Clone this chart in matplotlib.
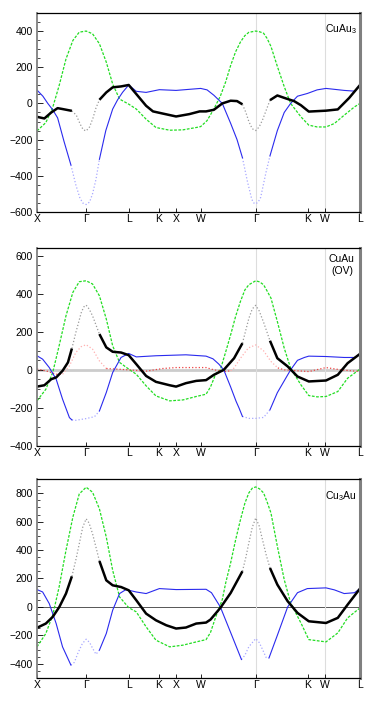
"""Band-like dispersion curves for CuAu3, CuAu (OV) and Cu3Au along the fcc path."""
import matplotlib.pyplot as plt
import numpy as np
from matplotlib.ticker import MultipleLocator

plt.rcParams["font.family"] = ["Liberation Sans", "DejaVu Sans"]
plt.rcParams["mathtext.fontset"] = "custom"
plt.rcParams["mathtext.rm"] = "Liberation Sans"
plt.rcParams["mathtext.it"] = "Liberation Sans"

# path positions of the high-symmetry points
TICK_POS = [0.0, 1.0, 1.866, 2.478, 2.832, 3.332, 4.450, 5.511, 5.865, 6.572]
TICK_LABELS = ["X", "Γ", "L", "K", "X", "W", "Γ", "K", "W", "L"]
GUIDE_POS = [4.450, 5.865]

# ---- CuAu3 ----
p1_green_k = [0, 0.18, 0.32, 0.45, 0.59, 0.73, 0.86, 1.00, 1.13, 1.27, 1.41, 1.54, 1.68, 1.866,
              2.02, 2.22, 2.42, 2.70, 2.97, 3.24, 3.33, 3.46, 3.60, 3.73, 3.84, 3.94, 4.04, 4.14,
              4.23, 4.31, 4.45, 4.53, 4.61, 4.68, 4.76, 4.89, 5.03, 5.16, 5.37, 5.53, 5.70, 5.88,
              6.05, 6.25, 6.46, 6.572]
p1_green_v = [-152, -106, -22, 98, 246, 348, 394, 400, 385, 330, 228, 107, 24, -4,
              -31, -87, -133, -148, -146, -133, -128, -95, -30, 40, 120, 210, 285, 340,
              375, 393, 400, 396, 388, 360, 315, 205, 93, 0, -74, -120, -130, -130,
              -111, -65, -19, 0]
p1_blue_k = [0, 0.12, 0.22, 0.32, 0.42, 0.55, 0.69, 0.79, 0.87, 0.93, 1.00, 1.07, 1.13, 1.20,
             1.27, 1.40, 1.54, 1.64, 1.74, 1.866, 2.02, 2.22, 2.49, 2.83, 3.10, 3.33, 3.46, 3.60,
             3.77, 3.94, 4.07, 4.18, 4.28, 4.37, 4.41, 4.45, 4.50, 4.55, 4.66, 4.74, 4.89, 5.03,
             5.16, 5.30, 5.50, 5.70, 5.88, 6.05, 6.25, 6.46, 6.572]
p1_blue_v = [74, 40, 0, -35, -80, -210, -340, -450, -520, -550, -559, -545, -500, -420,
             -309, -150, -31, 20, 61, 102, 67, 61, 76, 72, 78, 83, 75, 45,
             0, -110, -200, -300, -430, -530, -550, -555, -545, -520, -380, -290, -150, -50,
             0, 40, 55, 75, 83, 78, 72, 68, 100]
p1_black_k = [0, 0.15, 0.29, 0.42, 0.52, 0.71, 0.80, 0.88, 0.94, 1.00, 1.07, 1.14, 1.20, 1.27,
              1.41, 1.54, 1.71, 1.866, 2.02, 2.22, 2.36, 2.56, 2.83, 3.10, 3.31, 3.44, 3.60, 3.77,
              3.94, 4.07, 4.18, 4.25, 4.31, 4.38, 4.45, 4.52, 4.59, 4.66, 4.74, 4.89, 5.06, 5.23,
              5.37, 5.53, 5.88, 6.12, 6.35, 6.572]
p1_black_v = [-74, -83, -50, -26, -31, -41, -65, -115, -145, -152, -130, -80, -25, 20,
              61, 89, 94, 102, 52, -13, -44, -56, -72, -59, -44, -44, -35, 0,
              15, 13, -5, -50, -100, -140, -150, -130, -90, -40, 18, 44, 28, 13,
              -10, -45, -40, -33, 30, 102]

# ---- CuAu (OV) ----
p2_green_k = [0, 0.18, 0.32, 0.45, 0.59, 0.73, 0.86, 1.00, 1.13, 1.27, 1.41, 1.54, 1.68, 1.866,
              2.02, 2.22, 2.42, 2.70, 2.97, 3.24, 3.44, 3.53, 3.63, 3.73, 3.84, 3.94, 4.04, 4.14,
              4.23, 4.31, 4.45, 4.53, 4.61, 4.68, 4.76, 4.89, 5.03, 5.16, 5.37, 5.53, 5.70, 5.88,
              6.12, 6.32, 6.572]
p2_green_v = [-163, -102, -14, 126, 284, 407, 463, 468, 451, 389, 267, 126, 39, 4,
              -23, -84, -137, -163, -158, -140, -128, -90, -26, 0, 95, 184, 280, 360,
              420, 447, 468, 462, 447, 415, 377, 254, 114, 9, -79, -135, -142, -140,
              -114, -44, 4]
p2_blue_k = [0, 0.115, 0.25, 0.39, 0.52, 0.66, 0.71, 0.79, 1.00, 1.17, 1.27, 1.41, 1.54, 1.71,
             1.866, 2.02, 2.42, 3.03, 3.44, 3.58, 3.70, 3.80, 3.94, 4.05, 4.11, 4.18, 4.31, 4.45,
             4.61, 4.74, 4.89, 5.16, 5.30, 5.44, 5.53, 5.88, 6.25, 6.46, 6.572]
p2_blue_v = [74, 56, 12, -49, -154, -251, -263, -265, -256, -246, -216, -119, -14, 65,
             86, 68, 74, 79, 72, 58, 30, 0, -90, -165, -200, -245, -255, -255,
             -250, -210, -120, 0, 50, 65, 72, 70, 65, 65, 82]
p2_black_k = [0, 0.15, 0.29, 0.39, 0.52, 0.63, 0.71, 0.79, 0.90, 0.95, 1.00, 1.06, 1.13, 1.27,
              1.41, 1.54, 1.71, 1.866, 2.02, 2.22, 2.42, 2.70, 2.83, 3.03, 3.24, 3.44, 3.60, 3.80,
              4.01, 4.18, 4.25, 4.31, 4.38, 4.45, 4.52, 4.61, 4.74, 4.89, 5.10, 5.30, 5.53, 5.88,
              6.12, 6.32, 6.572]
p2_black_v = [-88, -81, -49, -40, -5, 39, 112, 196, 300, 330, 340, 320, 284, 188,
              118, 95, 91, 77, 30, -32, -63, -81, -88, -70, -58, -54, -26, 0,
              61, 140, 210, 270, 320, 339, 310, 250, 153, 61, 18, -35, -61, -56,
              -26, 35, 84]
p2_red_k = [0, 0.18, 0.39, 0.52, 0.66, 0.79, 0.90, 1.00, 1.13, 1.27, 1.41, 1.866, 2.22, 2.56,
            2.83, 3.44, 3.60, 3.80, 3.94, 4.01, 4.14, 4.30, 4.45, 4.61, 4.76, 4.90, 5.03, 5.53,
            5.88, 6.18, 6.572]
p2_red_v = [4, -5, -23, -23, 21, 91, 122, 132, 109, 47, 7, 0, -7, 7,
            12, 12, 0, -9, -5, 10, 61, 115, 131, 100, 44, 10, 0, -9,
            12, 0, -9]

# ---- Cu3Au ----
p3_green_k = [0, 0.18, 0.32, 0.45, 0.59, 0.73, 0.86, 1.00, 1.13, 1.27, 1.41, 1.54, 1.68, 1.866,
              2.02, 2.22, 2.42, 2.70, 2.97, 3.24, 3.44, 3.53, 3.63, 3.77, 3.84, 3.94, 4.04, 4.14,
              4.23, 4.31, 4.38, 4.45, 4.53, 4.61, 4.68, 4.76, 4.89, 5.03, 5.16, 5.37, 5.53, 5.88,
              6.12, 6.32, 6.572]
p3_green_v = [-281, -187, -58, 140, 398, 632, 795, 842, 807, 690, 491, 257, 70, -5,
              -35, -140, -234, -281, -269, -246, -230, -180, -77, 52, 170, 310, 470, 614,
              730, 802, 835, 844, 830, 802, 740, 661, 427, 192, 28, -113, -230, -246,
              -183, -77, -7]
p3_blue_k = [0, 0.115, 0.25, 0.39, 0.52, 0.69, 0.76, 0.83, 0.92, 1.00, 1.07, 1.13, 1.20, 1.27,
             1.41, 1.54, 1.68, 1.81, 2.02, 2.22, 2.49, 2.83, 3.44, 3.55, 3.73, 3.94, 4.16, 4.23,
             4.31, 4.45, 4.52, 4.59, 4.66, 4.72, 4.89, 5.10, 5.30, 5.50, 5.88, 6.05, 6.25, 6.46,
             6.572]
p3_blue_v = [122, 105, 23, -117, -281, -409, -390, -327, -260, -227, -250, -290, -333, -304,
             -187, -23, 94, 122, 105, 94, 129, 122, 124, 100, 0, -180, -370, -340,
             -280, -223, -250, -300, -355, -359, -200, 0, 100, 129, 134, 120, 94, 100,
             129]
p3_black_k = [0, 0.18, 0.32, 0.455, 0.59, 0.71, 0.79, 0.86, 0.93, 1.00, 1.06, 1.13, 1.20, 1.27,
              1.41, 1.54, 1.71, 1.866, 2.02, 2.22, 2.42, 2.63, 2.83, 3.03, 3.24, 3.44, 3.53, 3.73,
              3.94, 4.18, 4.25, 4.31, 4.38, 4.45, 4.52, 4.59, 4.66, 4.74, 4.89, 5.10, 5.30, 5.53,
              5.88, 6.12, 6.32, 6.572]
p3_black_v = [-147, -117, -70, 0, 94, 215, 330, 444, 560, 620, 590, 515, 420, 323,
              187, 152, 140, 117, 47, -47, -94, -129, -152, -145, -117, -110, -89, -7,
              98, 251, 350, 450, 560, 626, 570, 470, 370, 274, 157, 40, -42, -101,
              -113, -77, 16, 129]

GREEN_KW = dict(color="#22dd22", lw=0.9, dashes=(2.2, 1.2))
BLUE_KW = dict(color="#2a2aee", lw=0.8)
BLUE_FAINT = dict(color="#a8a8ff", lw=0.9, ls=":")
BLACK_KW = dict(color="black", lw=1.8, solid_capstyle="butt")
BLACK_FAINT = dict(color="#9a9a9a", lw=0.9, ls=":")
RED_KW = dict(color="#ee4444", lw=0.9, ls=":")
RED_FAINT = dict(color="#ffb0b0", lw=0.9, ls=":")


def draw_curve(ax, k, v, spans=(), solid_kw=None, faint_kw=None):
    k = np.asarray(k, float)
    v = np.asarray(v, float)
    inner = np.zeros(len(k), bool)
    edge = np.zeros(len(k), bool)
    for a, b in spans:
        inner |= (k > a) & (k < b)
        edge |= (k >= a) & (k <= b)
    if spans:
        ax.plot(k, np.where(edge, v, np.nan), **faint_kw)
    ax.plot(k, np.where(inner, np.nan, v), **solid_kw)


def style_axes(ax, ylim, label, label_xy, ha):
    ax.set_xlim(0, TICK_POS[-1])
    ax.set_ylim(*ylim)
    for g in GUIDE_POS:
        ax.axvline(g, color="#dddddd", lw=0.8, zorder=0)
    ax.set_xticks(TICK_POS)
    ax.set_xticklabels(TICK_LABELS)
    ax.yaxis.set_major_locator(MultipleLocator(200))
    ax.yaxis.set_minor_locator(MultipleLocator(50))
    ax.tick_params(axis="y", which="major", direction="in", length=4, width=0.6,
                   labelsize=7.5, pad=3, right=False)
    ax.tick_params(axis="y", which="minor", direction="in", length=2, width=0.5, right=False)
    ax.tick_params(axis="x", direction="in", length=3, width=0.6, labelsize=7.5, pad=1.5, top=False)
    ax.spines["left"].set_color("#808080")
    ax.spines["left"].set_linewidth(1.3)
    ax.spines["right"].set_color("#808080")
    ax.spines["right"].set_linewidth(2.2)
    ax.spines["top"].set_linewidth(0.9)
    ax.spines["bottom"].set_linewidth(0.9)
    ax.text(label_xy[0], label_xy[1], label, transform=ax.transAxes, ha=ha, va="top",
            fontsize=7.5, multialignment="center", linespacing=1.3)


fig = plt.figure(figsize=(3.74, 7.05), dpi=100)
ax1 = fig.add_axes([0.0989, 0.6993, 0.8637, 0.2823])
ax2 = fig.add_axes([0.0989, 0.3674, 0.8637, 0.2808])
ax3 = fig.add_axes([0.0989, 0.0383, 0.8637, 0.2823])

# CuAu3
draw_curve(ax1, p1_green_k, p1_green_v, solid_kw=GREEN_KW)
draw_curve(ax1, p1_blue_k, p1_blue_v, [(0.69, 1.27), (4.18, 4.74)], BLUE_KW, BLUE_FAINT)
draw_curve(ax1, p1_black_k, p1_black_v, [(0.71, 1.27), (4.18, 4.74)], BLACK_KW, BLACK_FAINT)
style_axes(ax1, (-600, 500), "CuAu$_3$", (0.99, 0.955), "right")

# CuAu (OV)
ax2.axhline(0, color="#cccccc", lw=2.0, zorder=0)
draw_curve(ax2, p2_green_k, p2_green_v, solid_kw=GREEN_KW)
draw_curve(ax2, p2_red_k, p2_red_v, [(0.52, 1.41), (3.94, 4.90)], RED_KW, RED_FAINT)
draw_curve(ax2, p2_blue_k, p2_blue_v, [(0.71, 1.27), (4.18, 4.74)], BLUE_KW, BLUE_FAINT)
draw_curve(ax2, p2_black_k, p2_black_v, [(0.71, 1.27), (4.18, 4.74)], BLACK_KW, BLACK_FAINT)
style_axes(ax2, (-400, 640), "CuAu\n(OV)", (0.944, 0.97), "center")

# Cu3Au
ax3.axhline(0, color="#555555", lw=0.7, zorder=0)
draw_curve(ax3, p3_green_k, p3_green_v, solid_kw=GREEN_KW)
draw_curve(ax3, p3_blue_k, p3_blue_v, [(0.69, 1.27), (4.16, 4.72)], BLUE_KW, BLUE_FAINT)
draw_curve(ax3, p3_black_k, p3_black_v, [(0.71, 1.27), (4.18, 4.74)], BLACK_KW, BLACK_FAINT)
style_axes(ax3, (-500, 900), "Cu$_3$Au", (0.99, 0.95), "right")

fig.savefig("out.png", dpi=100)
